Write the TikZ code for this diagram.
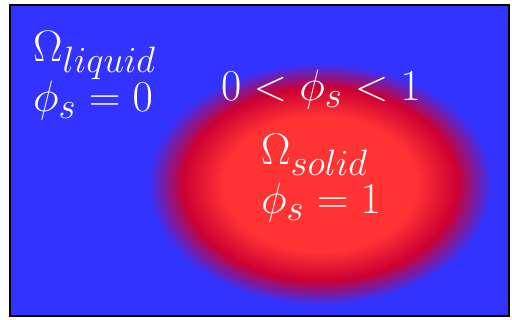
\documentclass[tikz,border=0pt]{standalone}
\usepackage{graphicx}
\usepackage{amsmath}
\definecolor{bgblue}{HTML}{3333FF}
\definecolor{coreRed}{HTML}{FF3333}
\definecolor{rimRed}{HTML}{CC0033}
\pgfdeclareradialshading{blob}{\pgfpoint{0bp}{0bp}}{color(0bp)=(coreRed); color(14bp)=(coreRed); color(20bp)=(rimRed); color(25bp)=(bgblue); color(50bp)=(bgblue)}
\newcommand{\bigtxt}[1]{\scalebox{1.77}{\Huge #1}}
\tikzset{lbl/.style={text=white, anchor=base west, inner sep=0pt}}
\begin{document}
\begin{tikzpicture}[x=1pt,y=-1pt]
\useasboundingbox (0,0) rectangle (512,320);
\fill[white] (0,0) rectangle (512,320);
\draw[line width=2pt, fill=bgblue] (10,5) rectangle (509,316);
\shade[shading=blob] (320,184) ellipse [x radius=172, y radius=121];
\node[lbl] (oliq) at (33,62) {\bigtxt{$\Omega_{liquid}$}};
\node[lbl] (pliq) at (33,112) {\bigtxt{$\phi_s = 0$}};
\node[lbl] (pint) at (221,101) {\bigtxt{$0 < \phi_s < 1$}};
\node[lbl] (osol) at (261,165) {\bigtxt{$\Omega_{solid}$}};
\node[lbl] (psol) at (261,214) {\bigtxt{$\phi_s = 1$}};
\end{tikzpicture}
\end{document}
